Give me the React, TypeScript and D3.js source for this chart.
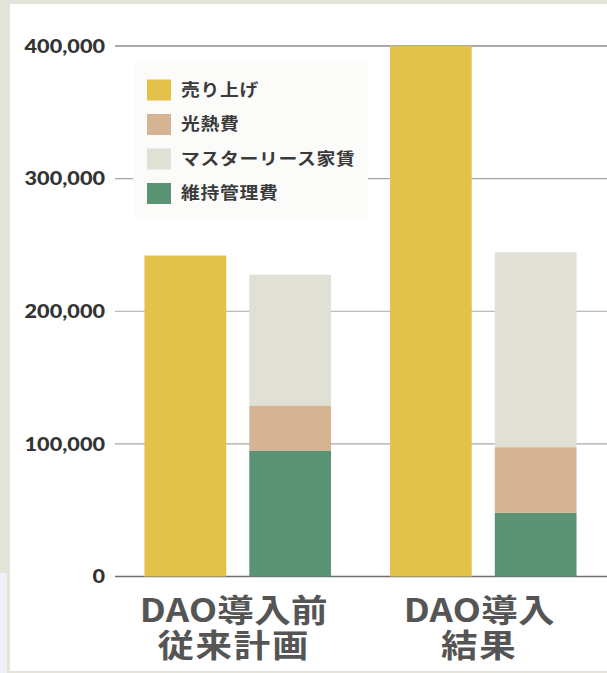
import React from "react";
import * as d3 from "d3";

// chart data
const categories = ["before", "after"];
const categoryLines = [
  ["DAO導入前", "従来計画"],
  ["DAO導入", "結果"],
];
const seriesNames = ["売り上げ", "光熱費", "マスターリース家賃", "維持管理費"];
const sales = [242000, 400000];
const utilities = [34000, 49500];
const rent = [98500, 147000];
const maintenance = [95000, 48000];
const yTicks = [0, 100000, 200000, 300000, 400000];

const colors = {
  sales: "#e3c24b",
  utilities: "#d5b393",
  rent: "#e0e0d5",
  maintenance: "#5b9474",
};
const legendColors = [colors.sales, colors.utilities, colors.rent, colors.maintenance];

const W = 607;
const H = 673;
const margin = { top: 46, right: 1, bottom: 96.5, left: 115 };
const stretch = 1.14;
const cjk = "'Noto Sans CJK JP', 'Noto Sans', sans-serif";

const App = () => {
  const x0 = d3
    .scaleBand()
    .domain(categories)
    .range([margin.left, W - margin.right])
    .paddingInner(0.24)
    .paddingOuter(0.12);

  const x1 = d3
    .scaleBand()
    .domain(["sales", "costs"])
    .range([0, x0.bandwidth()])
    .paddingInner(0.22);

  const y = d3
    .scaleLinear()
    .domain([0, 400000])
    .range([H - margin.bottom, margin.top]);

  const table = categories.map((c, i) => ({
    category: c,
    maintenance: maintenance[i],
    utilities: utilities[i],
    rent: rent[i],
  }));
  const stacked = d3.stack().keys(["maintenance", "utilities", "rent"])(table as any);

  const fmt = d3.format(",");

  return (
    <svg
      width={W}
      height={H}
      style={{ position: "absolute", left: 0, top: 0, display: "block" }}
    >
      {/* frame */}
      <rect x={0} y={0} width={W} height={H} fill="#e4e4d8" />
      <rect x={0} y={573} width={7} height={H - 573} fill="#eef1f6" />
      <rect x={10} y={4} width={W - 10} height={667} fill="#ffffff" />

      {/* gridlines + y labels */}
      {yTicks.map((t) => (
        <g key={t}>
          <line
            x1={margin.left}
            x2={W}
            y1={y(t)}
            y2={y(t)}
            stroke={t === 0 ? "#6e6e6e" : t === 400000 ? "#8c8c8c" : "#a8a8a8"}
            strokeWidth={t === 0 || t === 400000 ? 1.6 : 1.2}
          />
          <text
            transform={`translate(105,${y(t)}) scale(${stretch},1)`}
            dy="0.36em"
            textAnchor="end"
            fontFamily="Lato, 'DejaVu Sans', sans-serif"
            fontWeight={900}
            fontSize={19}
            fill="#333333"
          >
            {fmt(t)}
          </text>
        </g>
      ))}

      {/* legend */}
      <rect x={133} y={63} width={235} height={154} fill="#fbfbfa" />
      {seriesNames.map((name, i) => {
        const cy = 90 + i * 34.5;
        return (
          <g key={name}>
            <rect x={147} y={cy - 10.5} width={24} height={21} fill={legendColors[i]} />
            <text
              transform={`translate(181,${cy}) scale(${stretch},1)`}
              dy="0.36em"
              fontFamily={cjk}
              fontWeight={700}
              fontSize={16.5}
              letterSpacing={0.6}
              fill="#3a3a3a"
            >
              {name}
            </text>
          </g>
        );
      })}

      {/* sales bars */}
      {categories.map((c, i) => (
        <rect
          key={"s" + c}
          x={(x0(c) as number) + (x1("sales") as number)}
          y={y(sales[i])}
          width={x1.bandwidth()}
          height={y(0) - y(sales[i])}
          fill={colors.sales}
        />
      ))}

      {/* stacked cost bars */}
      {stacked.map((layer) => (
        <g key={layer.key} fill={(colors as any)[layer.key]}>
          {layer.map((d, i) => (
            <rect
              key={i}
              x={(x0(categories[i]) as number) + (x1("costs") as number)}
              y={y(d[1])}
              width={x1.bandwidth()}
              height={y(d[0]) - y(d[1])}
            />
          ))}
        </g>
      ))}

      {/* category labels */}
      {categories.map((c, i) => {
        const cx = (x0(c) as number) + x0.bandwidth() / 2 - 4;
        return categoryLines[i].map((line, j) => (
          <text
            key={c + j}
            transform={`translate(${cx},${622 + j * 35}) scale(${stretch},1)`}
            textAnchor="middle"
            fontFamily={cjk}
            fontWeight={700}
            fontSize={32}
            letterSpacing={j === 1 ? 1.5 : 0.3}
            fill="#555555"
          >
            {line}
          </text>
        ));
      })}
    </svg>
  );
};

export default App;
